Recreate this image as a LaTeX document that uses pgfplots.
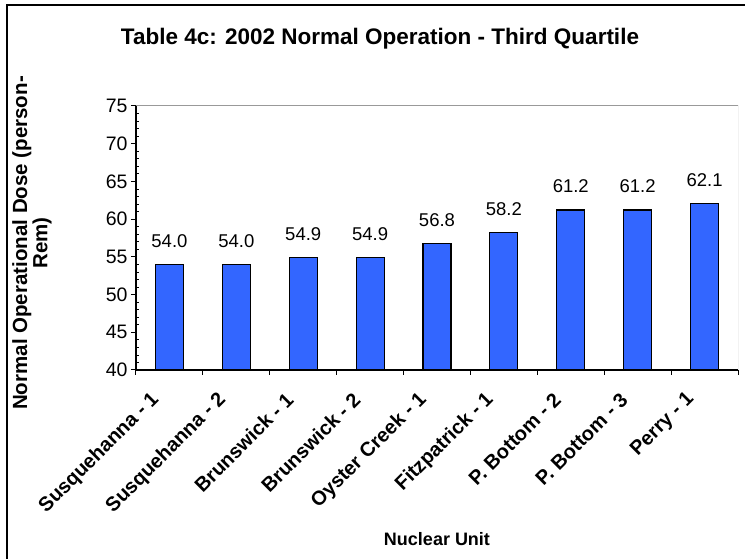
\documentclass[border=0pt]{standalone}
\usepackage{fontspec}
\setmainfont{Liberation Sans}
\usepackage{pgfplots}
\pgfplotsset{compat=1.18}
\definecolor{barblue}{HTML}{3366FF}
\begin{document}
\begin{tikzpicture}[x=1pt,y=1pt]
\useasboundingbox (0,0) rectangle (745,559);
\fill[white] (0,0) rectangle (745,559);
\draw[line width=1.5pt] (7,-5) -- (7,554) -- (750,554);
\node[font=\bfseries\fontsize{22.5}{24}\selectfont, anchor=base] at (380,514) {Table 4c: 2002 Normal Operation - Third Quartile};
\node[font=\bfseries\fontsize{18}{20}\selectfont, anchor=base] at (437,13) {Nuclear Unit};
\node[rotate=90, align=center, font=\bfseries\fontsize{20.5}{18}\selectfont] at (32,316) {Normal Operational Dose (person-\\Rem)};
\begin{axis}[
  at={(136pt,189pt)}, anchor=south west,
  scale only axis, width=602pt, height=264pt,
  xmin=-0.5, xmax=8.5, ymin=40, ymax=75,
  axis x line*=bottom, axis y line*=left,
  axis line style={black, line width=1.2pt},
  every tick/.append style={black, line width=1pt},
  ytick={40,45,...,75},
  minor y tick num=4,
  tick align=outside,
  major tick length=5pt, minor tick length=3pt,
  every minor tick/.append style={xshift=3pt, line width=0.8pt},
  /pgf/number format/assume math mode=true,
  yticklabel style={font=\fontsize{19.5}{19}\selectfont},
  xtick={-0.5,0.5,...,8.5}, xticklabels={},
  extra x ticks={0,1,2,3,4,5,6,7,8},
  extra x tick labels={Susquehanna - 1, Susquehanna - 2, Brunswick - 1, Brunswick - 2, Oyster Creek - 1, Fitzpatrick - 1, P. Bottom - 2, P. Bottom - 3, Perry - 1},
  extra x tick style={major tick length=0pt, tick label style={font=\bfseries\fontsize{20}{20}\selectfont, xshift=-11pt, yshift=-24pt, rotate=45, anchor=east}},
  ybar, bar width=28pt,
  nodes near coords={\pgfmathprintnumber[fixed, fixed zerofill, precision=1]{\pgfplotspointmeta}},
  nodes near coords style={font=\fontsize{18.5}{18}\selectfont, yshift=13pt, black},
]
\addplot[ybar, fill=barblue, draw=black, line width=1.2pt] coordinates {
(0,54.0) (1,54.0) (2,54.9) (3,54.9) (4,56.8) (5,58.2) (6,61.2) (7,61.2) (8,62.1)};
\draw[gray!80, line width=1pt] (rel axis cs:0,1) -- (rel axis cs:1,1) -- (rel axis cs:1,0);
\end{axis}
\end{tikzpicture}
\end{document}
